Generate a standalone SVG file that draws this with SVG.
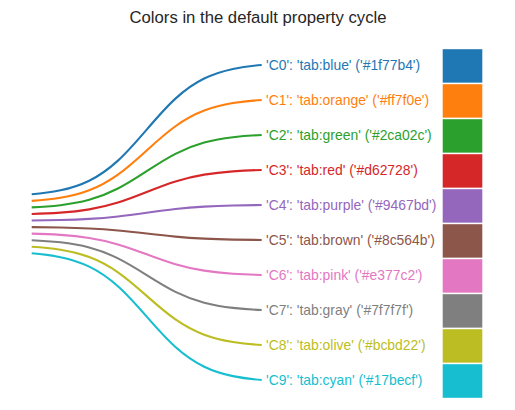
<svg xmlns="http://www.w3.org/2000/svg" xmlns:xlink="http://www.w3.org/1999/xlink" width="515" height="410" viewBox="0 0 515 410">
<style>
text{font-family:"Liberation Sans",Arial,sans-serif;}
.title{font-size:16.7px;fill:#262626;text-anchor:middle;}
.lbl{font-size:13.9px;}
.curve{fill:none;stroke-width:2.1;vector-effect:non-scaling-stroke;stroke-linecap:butt;}
.sw{stroke:#fff;stroke-width:1.4;}
</style>
<defs>
<path id="sig" class="curve" vector-effect="non-scaling-stroke" d="M31.7,6.561 C41.283,6.735 50.867,6.985 60.45,7.429 C70.033,7.873 79.617,8.514 89.2,9.546 C98.783,10.578 108.367,12.031 117.95,13.964 C127.533,15.897 137.117,18.322 146.7,20.78 C156.283,23.238 165.867,25.663 175.45,27.596 C185.033,29.529 194.617,30.982 204.2,32.014 C213.783,33.046 223.367,33.687 232.95,34.131 C242.533,34.575 252.117,34.825 261.7,34.999"/>
</defs>
<rect width="515" height="410" fill="#fff"/>
<text class="title" x="258" y="22.5">Colors in the default property cycle</text>
<g id="connectors">
<use href="#sig" xlink:href="#sig" stroke="#1f77b4" transform="matrix(1 0 0 -4.546 0 224.1)"/>
<use href="#sig" xlink:href="#sig" stroke="#ff7f0e" transform="matrix(1 0 0 -3.546 0 224.1)"/>
<use href="#sig" xlink:href="#sig" stroke="#2ca02c" transform="matrix(1 0 0 -2.546 0 224.1)"/>
<use href="#sig" xlink:href="#sig" stroke="#d62728" transform="matrix(1 0 0 -1.546 0 224.1)"/>
<use href="#sig" xlink:href="#sig" stroke="#9467bd" transform="matrix(1 0 0 -0.546 0 224.1)"/>
<use href="#sig" xlink:href="#sig" stroke="#8c564b" transform="matrix(1 0 0 0.454 0 224.1)"/>
<use href="#sig" xlink:href="#sig" stroke="#e377c2" transform="matrix(1 0 0 1.454 0 224.1)"/>
<use href="#sig" xlink:href="#sig" stroke="#7f7f7f" transform="matrix(1 0 0 2.454 0 224.1)"/>
<use href="#sig" xlink:href="#sig" stroke="#bcbd22" transform="matrix(1 0 0 3.454 0 224.1)"/>
<use href="#sig" xlink:href="#sig" stroke="#17becf" transform="matrix(1 0 0 4.454 0 224.1)"/>
</g>
<g id="C0"><text class="lbl" x="266" y="70" fill="#1f77b4">'C0': 'tab:blue' ('#1f77b4')</text><rect class="sw" x="442" y="48.5" width="41" height="35" fill="#1f77b4"/></g>
<g id="C1"><text class="lbl" x="266" y="105" fill="#ff7f0e">'C1': 'tab:orange' ('#ff7f0e')</text><rect class="sw" x="442" y="83.5" width="41" height="35" fill="#ff7f0e"/></g>
<g id="C2"><text class="lbl" x="266" y="140" fill="#2ca02c">'C2': 'tab:green' ('#2ca02c')</text><rect class="sw" x="442" y="118.5" width="41" height="35" fill="#2ca02c"/></g>
<g id="C3"><text class="lbl" x="266" y="175" fill="#d62728">'C3': 'tab:red' ('#d62728')</text><rect class="sw" x="442" y="153.5" width="41" height="35" fill="#d62728"/></g>
<g id="C4"><text class="lbl" x="266" y="210" fill="#9467bd">'C4': 'tab:purple' ('#9467bd')</text><rect class="sw" x="442" y="188.5" width="41" height="35" fill="#9467bd"/></g>
<g id="C5"><text class="lbl" x="266" y="245" fill="#8c564b">'C5': 'tab:brown' ('#8c564b')</text><rect class="sw" x="442" y="223.5" width="41" height="35" fill="#8c564b"/></g>
<g id="C6"><text class="lbl" x="266" y="280" fill="#e377c2">'C6': 'tab:pink' ('#e377c2')</text><rect class="sw" x="442" y="258.5" width="41" height="35" fill="#e377c2"/></g>
<g id="C7"><text class="lbl" x="266" y="315" fill="#7f7f7f">'C7': 'tab:gray' ('#7f7f7f')</text><rect class="sw" x="442" y="293.5" width="41" height="35" fill="#7f7f7f"/></g>
<g id="C8"><text class="lbl" x="266" y="350" fill="#bcbd22">'C8': 'tab:olive' ('#bcbd22')</text><rect class="sw" x="442" y="328.5" width="41" height="35" fill="#bcbd22"/></g>
<g id="C9"><text class="lbl" x="266" y="385" fill="#17becf">'C9': 'tab:cyan' ('#17becf')</text><rect class="sw" x="442" y="363.5" width="41" height="35" fill="#17becf"/></g>
</svg>
